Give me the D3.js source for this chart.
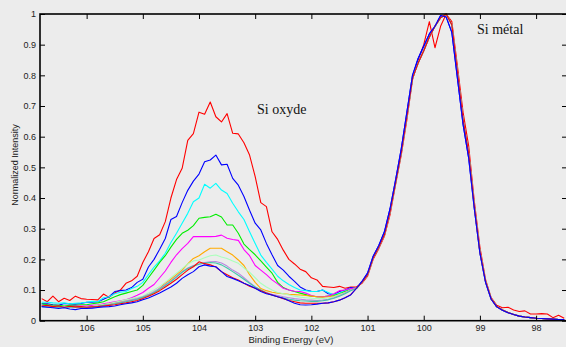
<!DOCTYPE html>
<html>
<head>
<meta charset="utf-8">
<script src="https://cdn.jsdelivr.net/npm/d3@7"></script>
<style>
  html, body { margin: 0; padding: 0; background: #ececec; }
  svg { display: block; }
  .tick text { font-family: "Liberation Sans", Arial, sans-serif; font-size: 9px; fill: #222; }
  .tick line { stroke: #000; stroke-width: 1; }
</style>
</head>
<body>
<div id="app"></div>
<script>
// ---------- DATA ----------

// energy grid, 0.1 eV step
// oxide part: 106.8 .. 101.3 (56 pts), metal part: 101.2 .. 97.5 (38 pts)
const oxideStart = 106.8, metalStart = 101.2, stepEV = 0.1;

const xTicks = [106, 105, 104, 103, 102, 101, 100, 99, 98];
const xTickLabels = ["106", "105", "104", "103", "102", "101", "100", "99", "98"];
const yTicks = [0, 0.1, 0.2, 0.3, 0.4, 0.5, 0.6, 0.7, 0.8, 0.9, 1];
const yTickLabels = ["0", "0.1", "0.2", "0.3", "0.4", "0.5", "0.6", "0.7", "0.8", "0.9", "1"];

const seriesColors = ["#ff0000", "#0000ff", "#00ffff", "#00ee00", "#ff00ff", "#ffaa00",
                      "#aaffbb", "#b888e0", "#40c8a8", "#ff0000", "#0000ff"];

const oxideR1 = [
  .072,.062,.080,.062,.073,.066,.080,.072,.070,.069,
  .068,.087,.076,.090,.100,.122,.130,.145,.190,.225,
  .268,.280,.323,.400,.460,.497,.588,.610,.680,.673,
  .713,.665,.648,.675,.611,.609,.580,.540,.470,.385,
  .372,.290,.265,.230,.200,.185,.168,.160,.140,.133,
  .112,.110,.108,.112,.106,.110];
const oxideB1 = [
  .055,.055,.052,.050,.056,.055,.054,.056,.060,.060,
  .062,.070,.078,.095,.098,.100,.108,.125,.135,.175,
  .200,.233,.268,.330,.340,.385,.425,.455,.478,.518,
  .524,.540,.508,.510,.464,.442,.405,.360,.318,.296,
  .252,.215,.180,.165,.145,.128,.110,.100,.096,.095,
  .100,.088,.085,.095,.100,.108];
const oxideC = [
  .060,.060,.058,.057,.058,.055,.057,.058,.060,.063,
  .062,.075,.078,.088,.093,.095,.105,.112,.125,.150,
  .175,.195,.220,.255,.285,.318,.350,.388,.400,.445,
  .432,.448,.426,.415,.383,.355,.330,.290,.252,.214,
  .190,.168,.145,.130,.118,.108,.100,.098,.095,.095,
  .100,.092,.084,.090,.098,.105];
const oxideG = [
  .055,.052,.050,.050,.048,.050,.050,.052,.052,.055,
  .058,.062,.070,.078,.085,.090,.095,.100,.115,.140,
  .165,.190,.212,.240,.265,.285,.295,.310,.334,.337,
  .339,.347,.338,.312,.312,.285,.250,.232,.215,.195,
  .175,.155,.125,.108,.100,.095,.090,.085,.080,.078,
  .078,.080,.082,.088,.095,.102];
const oxideM = [
  .050,.048,.047,.047,.045,.047,.048,.048,.048,.050,
  .052,.055,.058,.062,.065,.068,.075,.083,.092,.106,
  .118,.140,.162,.190,.215,.235,.252,.274,.274,.274,
  .274,.275,.279,.269,.265,.262,.232,.212,.180,.165,
  .150,.133,.120,.106,.100,.096,.095,.090,.082,.078,
  .078,.080,.088,.098,.100,.105];
const oxideO = [
  .048,.046,.045,.044,.045,.043,.045,.044,.042,.045,
  .050,.052,.055,.058,.062,.065,.068,.072,.078,.085,
  .090,.106,.122,.135,.150,.165,.185,.203,.212,.225,
  .236,.236,.236,.225,.214,.198,.180,.150,.125,.105,
  .098,.093,.090,.088,.086,.085,.084,.082,.080,.078,
  .077,.078,.080,.085,.092,.100];
const oxidePG = [
  .050,.048,.047,.046,.045,.046,.045,.044,.045,.047,
  .050,.053,.056,.060,.064,.068,.072,.076,.080,.090,
  .100,.112,.125,.140,.155,.170,.185,.195,.198,.205,
  .212,.214,.208,.203,.195,.187,.172,.158,.140,.122,
  .110,.100,.092,.088,.084,.080,.077,.075,.073,.072,
  .072,.074,.078,.085,.092,.100];
const oxideLav = [
  .048,.046,.045,.046,.044,.045,.046,.045,.044,.046,
  .048,.050,.053,.056,.060,.064,.068,.072,.078,.085,
  .095,.105,.118,.130,.145,.160,.172,.180,.185,.190,
  .192,.193,.188,.178,.165,.155,.140,.125,.110,.100,
  .092,.086,.082,.078,.075,.072,.070,.068,.067,.066,
  .067,.070,.075,.082,.090,.100];
const oxideTeal = [
  .046,.045,.044,.045,.043,.044,.045,.043,.044,.045,
  .047,.050,.052,.055,.058,.062,.066,.070,.076,.082,
  .092,.102,.115,.128,.142,.158,.170,.178,.184,.188,
  .190,.188,.182,.172,.160,.148,.135,.122,.110,.100,
  .090,.083,.078,.074,.070,.067,.065,.064,.063,.063,
  .065,.068,.073,.080,.088,.098];
const oxideR2 = [
  .048,.050,.046,.048,.044,.047,.045,.046,.044,.045,
  .046,.048,.050,.052,.055,.058,.062,.066,.072,.080,
  .088,.098,.110,.122,.135,.150,.165,.176,.192,.186,
  .182,.175,.160,.150,.140,.133,.122,.112,.106,.098,
  .090,.084,.078,.072,.066,.062,.058,.057,.057,.057,
  .057,.058,.062,.067,.075,.085];
const oxideB2 = [
  .046,.044,.042,.040,.042,.038,.036,.040,.040,.041,
  .043,.045,.046,.048,.052,.055,.058,.062,.068,.074,
  .082,.090,.100,.110,.122,.138,.150,.160,.176,.182,
  .178,.176,.160,.144,.138,.130,.122,.115,.106,.095,
  .088,.084,.078,.073,.065,.057,.052,.051,.052,.054,
  .057,.058,.062,.067,.075,.084];

const metalRest = [
  .105,.125,.150,.205,.240,.280,.355,.450,.548,.665,
  .790,.840,.880,.925,.960,.988,1.00,.965,.810,.655,
  .545,.375,.225,.128,.072,.046,.035,.027,.020,.015,
  .012,.010,.008,.007,.006,.005,.004,.004];
const metalRed = [
  .110,.122,.145,.200,.235,.275,.345,.445,.540,.655,
  .785,.850,.900,.975,.890,.960,1.00,.975,.830,.680,
  .570,.390,.240,.135,.075,.050,.042,.044,.035,.030,
  .032,.022,.022,.023,.022,.010,.018,.008];
const metalBlue = [
  .105,.128,.155,.210,.245,.290,.365,.460,.560,.680,
  .800,.855,.895,.935,.960,.995,.990,.940,.790,.640,
  .530,.365,.220,.125,.070,.045,.034,.026,.020,.015,
  .012,.010,.008,.007,.006,.005,.004,.004];

const oxideParts = [oxideR1, oxideB1, oxideC, oxideG, oxideM, oxideO, oxidePG, oxideLav, oxideTeal, oxideR2, oxideB2];
const metalParts = [metalRed, metalBlue, metalRest, metalRest, metalRest, metalRest, metalRest, metalRest, metalRest, metalRest, metalBlue];

// ---------- LAYOUT ----------
const WIDTH = 566, HEIGHT = 347;
const LEFT = 40, RIGHT = 567, TOP = 14, BOTTOM = 320.7;

const svg = d3.select("#app").append("svg")
  .attr("width", WIDTH)
  .attr("height", HEIGHT)
  .style("background", "#ececec");

const x = d3.scaleLinear().domain([106.83, 97.45]).range([LEFT, RIGHT]);
const y = d3.scaleLinear().domain([0, 1]).range([BOTTOM, TOP]);

svg.append("clipPath").attr("id", "plot-clip")
  .append("rect")
  .attr("x", LEFT).attr("y", TOP - 1)
  .attr("width", RIGHT - LEFT).attr("height", BOTTOM - TOP + 1);

// ---------- LINES ----------
const line = d3.line().x(d => x(d[0])).y(d => y(d[1]));

const series = oxideParts.map((ox, k) => {
  const pts = ox.map((v, i) => [oxideStart - stepEV * i, v]);
  metalParts[k].forEach((v, i) => pts.push([metalStart - stepEV * i, v]));
  return pts;
});

svg.append("g")
  .attr("clip-path", "url(#plot-clip)")
  .selectAll("path")
  .data(series)
  .enter()
  .append("path")
  .attr("d", line)
  .attr("fill", "none")
  .attr("stroke", (d, i) => seriesColors[i])
  .attr("stroke-width", 1.1)
  .attr("stroke-linejoin", "round");

// ---------- AXES ----------
svg.append("g")
  .attr("transform", `translate(0, ${BOTTOM})`)
  .call(d3.axisBottom(x).tickValues(xTicks).tickFormat((d, i) => xTickLabels[i])
    .tickSizeInner(-5).tickSizeOuter(0).tickPadding(4))
  .call(g => g.select(".domain").remove());

svg.append("g")
  .attr("transform", `translate(0, ${TOP})`)
  .call(d3.axisTop(x).tickValues(xTicks).tickFormat("").tickSizeInner(-5).tickSizeOuter(0))
  .call(g => g.select(".domain").remove());

svg.append("g")
  .attr("transform", `translate(${LEFT}, 0)`)
  .call(d3.axisLeft(y).tickValues(yTicks).tickFormat((d, i) => yTickLabels[i])
    .tickSizeInner(-5).tickSizeOuter(0).tickPadding(4))
  .call(g => g.select(".domain").remove());

svg.append("g")
  .attr("transform", `translate(${RIGHT}, 0)`)
  .call(d3.axisRight(y).tickValues(yTicks).tickFormat("").tickSizeInner(-5).tickSizeOuter(0))
  .call(g => g.select(".domain").remove());

// frame
svg.append("rect")
  .attr("x", LEFT).attr("y", TOP)
  .attr("width", RIGHT - LEFT).attr("height", BOTTOM - TOP)
  .attr("fill", "none")
  .attr("stroke", "#000")
  .attr("stroke-width", 1.6);

// ---------- LABELS ----------
svg.append("text")
  .attr("x", 291).attr("y", 343)
  .attr("text-anchor", "middle")
  .style("font-family", "'Liberation Sans', Arial, sans-serif")
  .style("font-size", "9.5px")
  .style("fill", "#222")
  .text("Binding Energy (eV)");

svg.append("text")
  .attr("transform", `translate(18, 165) rotate(-90)`)
  .attr("text-anchor", "middle")
  .style("font-family", "'Liberation Sans', Arial, sans-serif")
  .style("font-size", "9px")
  .style("fill", "#222")
  .text("Normalized Intensity");

svg.append("text")
  .attr("x", 257).attr("y", 114)
  .style("font-family", "'Liberation Serif', 'Times New Roman', serif")
  .style("font-size", "14px")
  .style("fill", "#111")
  .text("Si oxyde");

svg.append("text")
  .attr("x", 477).attr("y", 34)
  .style("font-family", "'Liberation Serif', 'Times New Roman', serif")
  .style("font-size", "14px")
  .style("fill", "#111")
  .text("Si métal");
</script>
</body>
</html>
